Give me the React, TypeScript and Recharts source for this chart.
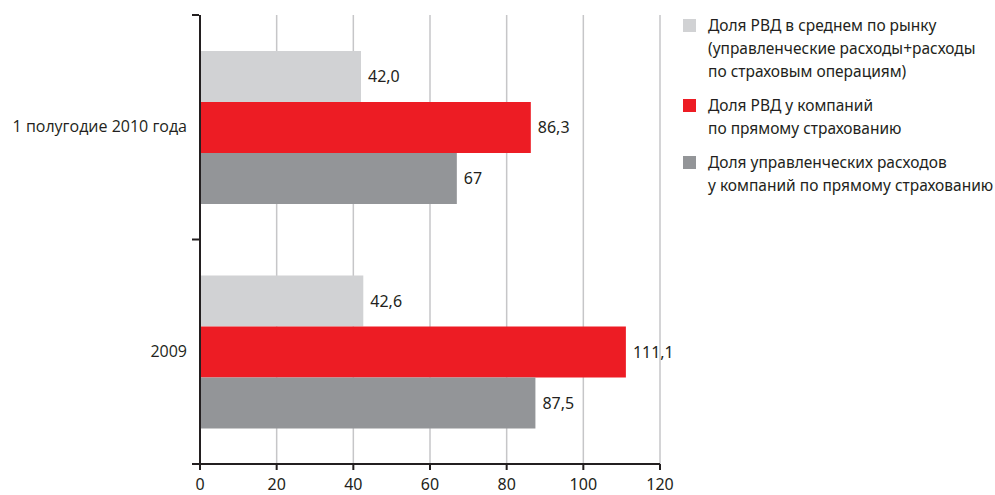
import { BarChart, Bar, XAxis, YAxis, CartesianGrid, LabelList } from 'recharts'

const categories = ['1 полугодие 2010 года', '2009']
const marketShare = [42.0, 42.6]
const directShare = [86.3, 111.1]
const adminShare = [67, 87.5]
const marketLabels = ['42,0', '42,6']
const directLabels = ['86,3', '111,1']
const adminLabels = ['67', '87,5']
const xTicks = [0, 20, 40, 60, 80, 100, 120]

const legendItems = [
  { color: '#d1d2d4', lines: ['Доля РВД в среднем по рынку', '(управленческие расходы+расходы', 'по страховым операциям)'] },
  { color: '#ed1c24', lines: ['Доля РВД у компаний', 'по прямому страхованию'] },
  { color: '#939598', lines: ['Доля управленческих расходов', 'у компаний по прямому страхованию'] },
]

const W = 995
const H = 495
const M = { top: 15, right: 335, bottom: 0, left: 0 }
const X_AXIS_H = 31
const Y_AXIS_W = 200
const BAND = (H - M.top - M.bottom - X_AXIS_H) / categories.length

const data = categories.map((c, i) => ({
  name: c,
  market: marketShare[i],
  direct: directShare[i],
  admin: adminShare[i],
  marketLabel: marketLabels[i],
  directLabel: directLabels[i],
  adminLabel: adminLabels[i],
}))

const TEXT = '#231f20'

function CategoryTick(props: any) {
  const { x, y, payload, index } = props
  const top = y - BAND / 2
  return (
    <g>
      <line x1={x} x2={x + 7} y1={top} y2={top} stroke={TEXT} strokeWidth={2} />
      {index === categories.length - 1 && (
        <line x1={x} x2={x + 7} y1={top + BAND} y2={top + BAND} stroke={TEXT} strokeWidth={2} />
      )}
      <text x={x - 5} y={y} dy={5} textAnchor="end" fill={TEXT} fontSize={16} fontFamily="Open Sans">
        {payload.value}
      </text>
    </g>
  )
}

function LegendBox() {
  return (
    <div style={{ position: 'absolute', left: 683, top: 14, fontFamily: 'Noto Sans', fontSize: 15.5, color: TEXT, lineHeight: '23px' }}>
      {legendItems.map((item, i) => (
        <div key={i} style={{ display: 'flex', marginBottom: 11 }}>
          <span style={{ width: 13, height: 13, background: item.color, marginTop: 5, marginRight: 12, flexShrink: 0 }} />
          <div>
            {item.lines.map((l) => (
              <div key={l} style={{ whiteSpace: 'nowrap' }}>{l}</div>
            ))}
          </div>
        </div>
      ))}
    </div>
  )
}

const labelProps = { position: 'right' as const, offset: 7, fill: TEXT, fontSize: 16, fontFamily: 'Noto Sans' }

export default function App() {
  return (
    <div style={{ position: 'absolute', left: 0, top: 0, width: W, height: H, background: '#fff' }}>
      <BarChart width={W} height={H} data={data} layout="vertical" margin={M} barGap={0} barSize={51}>
        <CartesianGrid horizontal={false} vertical stroke="#c6c6c8" strokeWidth={1.5} />
        <XAxis
          type="number"
          domain={[0, 120]}
          ticks={xTicks}
          interval={0}
          height={X_AXIS_H}
          axisLine={{ stroke: TEXT, strokeWidth: 2 }}
          tickLine={{ stroke: TEXT, strokeWidth: 2 }}
          tickSize={6}
          tick={{ fill: TEXT, fontSize: 16, fontFamily: 'Noto Sans' }}
          tickMargin={9}
        />
        <YAxis
          type="category"
          dataKey="name"
          width={Y_AXIS_W}
          axisLine={{ stroke: TEXT, strokeWidth: 2 }}
          tickLine={false}
          tick={<CategoryTick />}
        />
        <Bar dataKey="market" fill="#d1d2d4" isAnimationActive={false}>
          <LabelList dataKey="marketLabel" {...labelProps} />
        </Bar>
        <Bar dataKey="direct" fill="#ed1c24" isAnimationActive={false}>
          <LabelList dataKey="directLabel" {...labelProps} />
        </Bar>
        <Bar dataKey="admin" fill="#939598" isAnimationActive={false}>
          <LabelList dataKey="adminLabel" {...labelProps} />
        </Bar>
      </BarChart>
      <LegendBox />
    </div>
  )
}
